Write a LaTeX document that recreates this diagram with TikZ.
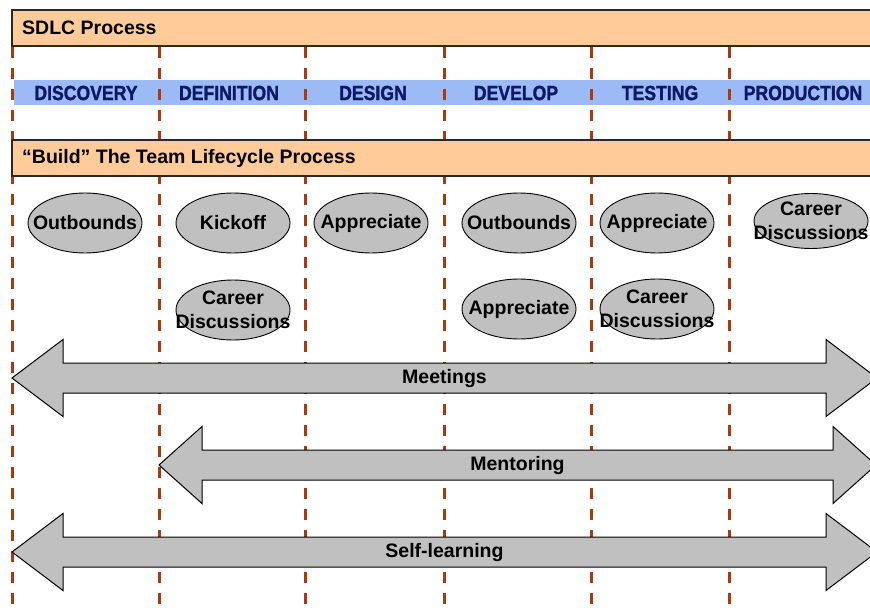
\documentclass[tikz,border=0pt]{standalone}
\usepackage{fontspec}
\setmainfont{Liberation Sans}
\newfontfamily\phasefont{Liberation Sans}[FakeBold=1.6]
\usetikzlibrary{shapes.geometric}

\definecolor{peach}{RGB}{255,204,153}
\definecolor{bandblue}{RGB}{155,186,246}
\definecolor{navy}{RGB}{14,24,104}
\definecolor{rust}{RGB}{168,58,14}
\definecolor{silver}{RGB}{192,192,192}
\definecolor{frame}{RGB}{40,40,40}

\tikzset{
  headerbar/.style={fill=peach, draw=frame, line width=1.3pt},
  headertext/.style={anchor=west, inner sep=0pt, font=\fontsize{19.5}{22}\selectfont\bfseries},
  phasetext/.style={inner sep=0pt, text=navy, font=\fontsize{20.5}{23}\phasefont\bfseries},
  divider/.style={rust, line width=3pt, dash pattern=on 11pt off 10pt},
  activity/.style={ellipse, fill=silver, draw=black, line width=0.9pt,
    minimum width=114pt, minimum height=60pt, inner sep=0pt},
  acttext/.style={inner sep=0pt, align=center, font=\fontsize{19.5}{24}\selectfont\bfseries},
  arrowbody/.style={fill=silver, draw=black, line width=1pt, line join=miter},
  arrowtext/.style={inner sep=0pt, font=\fontsize{19.5}{22}\selectfont\bfseries}
}

% double-headed lifecycle arrow:
% #1 name, #2 left tip x, #3 left head base x, #4 right head base x,
% #5 right tip x, #6 centre y, #7 label
\newcommand{\lifearrow}[7]{%
  \filldraw[arrowbody] (#2,#6) -- (#3,#6-38.5) -- (#3,#6-15) -- (#4,#6-15)
    -- (#4,#6-38.5) -- (#5,#6) -- (#4,#6+38.5) -- (#4,#6+15)
    -- (#3,#6+15) -- (#3,#6+38.5) -- cycle;
  \node[arrowtext] (#1) at ({(#2+#5)/2},#6) {#7};%
}

\newcommand{\phaselabel}[3]{%
  \node[phasetext] (#1) at (#2,93) {\scalebox{0.86}[1]{#3}};%
}

\begin{document}
\begin{tikzpicture}[x=1pt, y=-1pt]
\useasboundingbox (0,0) rectangle (870,610);
\clip (0,0) rectangle (870,610);
\fill[white] (0,0) rectangle (870,610);

% phase band
\fill[bandblue] (14,80) rectangle (875,105);

% phase dividers
\foreach \x in {12,159,305,444,591,729}
  \draw[divider] (\x,47) -- (\x,612);

% header bars
\draw[headerbar] (12,10) rectangle (885,46);
\node[headertext] (sdlc) at (22,28) {SDLC Process};
\draw[headerbar] (12,140) rectangle (885,176);
\node[headertext] (build) at (22,158) {“Build” The Team Lifecycle Process};

% phase names
\phaselabel{discovery}{86}{DISCOVERY}
\phaselabel{definition}{229}{DEFINITION}
\phaselabel{design}{373}{DESIGN}
\phaselabel{develop}{516}{DEVELOP}
\phaselabel{testing}{660}{TESTING}
\phaselabel{production}{803}{PRODUCTION}

% activities
\node[activity] (out1) at (85,223) {};
\node[acttext] (out1t) at (out1) {Outbounds};
\node[activity] (kick) at (233,223) {};
\node[acttext] (kickt) at (kick) {Kickoff};
\node[activity] (app1) at (371,223) {};
\node[acttext] (app1t) at (app1) {Appreciate};
\node[activity] (out2) at (519,223) {};
\node[acttext] (out2t) at (out2) {Outbounds};
\node[activity] (app2) at (657,223) {};
\node[acttext] (app2t) at (app2) {Appreciate};
\node[activity, minimum height=55pt] (car3) at (811,221) {};
\node[acttext] (car3t) at (car3) {Career\\Discussions};

\node[activity] (car1) at (233,310) {};
\node[acttext] (car1t) at (car1) {Career\\Discussions};
\node[activity] (app3) at (519,309) {};
\node[acttext] (app3t) at (app3) {Appreciate};
\node[activity] (car2) at (657,309) {};
\node[acttext] (car2t) at (car2) {Career\\Discussions};

% ongoing practices
\lifearrow{meetings}{12}{63}{826}{877}{378}{Meetings}
\lifearrow{mentoring}{159}{202}{833}{876}{465}{Mentoring}
\lifearrow{selflearning}{12}{63}{826}{877}{552}{Self-learning}
\end{tikzpicture}
\end{document}
